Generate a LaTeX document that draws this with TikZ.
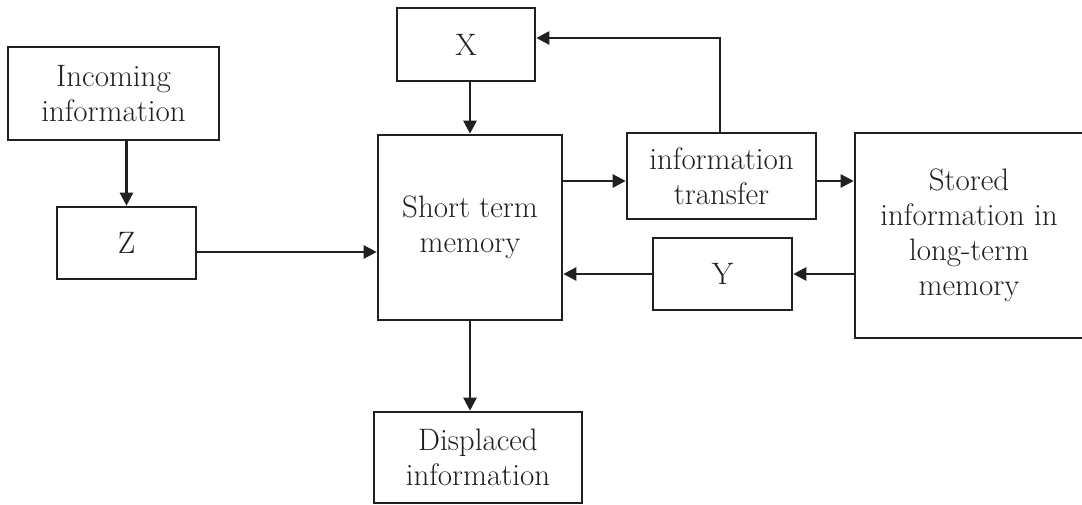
\documentclass[tikz,border=0pt]{standalone}
\usetikzlibrary{arrows.meta}
\definecolor{ink}{RGB}{35,31,32}
\begin{document}
\begin{tikzpicture}[x=1pt,y=1pt,
  box/.style={draw=ink,line width=2.6pt,rectangle,inner sep=0pt,align=center,
    font=\fontsize{31}{35}\selectfont,text=ink},
  arr/.style={draw=ink,line width=2.5pt,-{Triangle[length=13pt,width=13pt]}}]
\useasboundingbox (0,0) rectangle (1082,-505);
\node[box,minimum width=211pt,minimum height=93pt] (inc) at (113.5,-93.5) {Incoming\\information};
\node[box,minimum width=139pt,minimum height=72pt] (nz) at (126.5,-243) {Z};
\node[box,minimum width=138pt,minimum height=73pt] (nx) at (466,-44.5) {X};
\node[box,minimum width=184pt,minimum height=185pt] (stm) at (470,-227.5) {Short term\\memory};
\node[box,minimum width=189pt,minimum height=86pt] (it) at (721.5,-176) {information\\transfer};
\node[box,minimum width=228pt,minimum height=205pt] (st) at (969,-235.5) {Stored\\information in\\long-term\\memory};
\node[box,minimum width=139pt,minimum height=72pt] (ny) at (722.5,-274) {Y};
\node[box,minimum width=208pt,minimum height=91pt] (dis) at (478,-457.5) {Displaced\\information};
\draw[arr] (inc.south -| nz) -- (nz.north);
\draw[arr] ([yshift=-9pt]nz.east) -- ([yshift=-9pt]nz.east -| stm.west);
\draw[arr] (nx.south -| stm) -- (stm.north);
\draw[arr] ([yshift=-5pt]it.west -| stm.east) -- ([yshift=-5pt]it.west);
\draw[arr] ([yshift=-5pt]it.east) -- ([yshift=-5pt]it.east -| st.west);
\draw[arr] ([xshift=-1.5pt]it.north) |- ([yshift=6.5pt]nx.east);
\draw[arr] (st.west |- ny) -- (ny.east);
\draw[arr] (ny.west) -- (ny.west -| stm.east);
\draw[arr] (stm.south) -- (stm.south |- dis.north);
\end{tikzpicture}
\end{document}
